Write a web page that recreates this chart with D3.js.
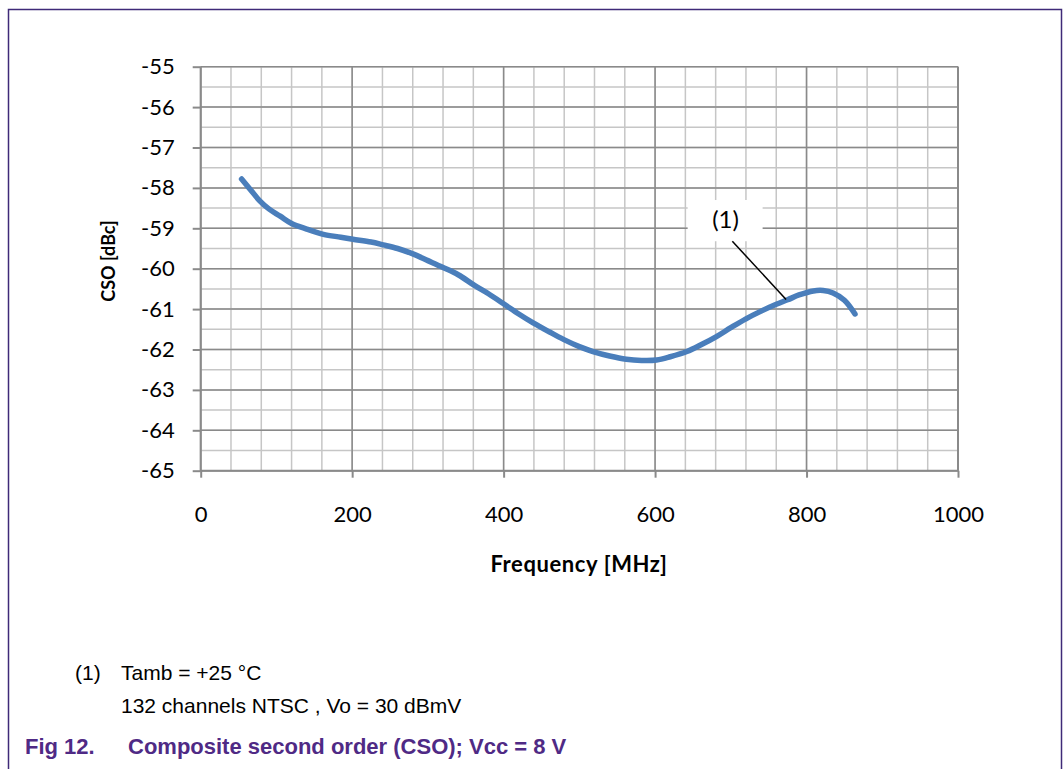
<!DOCTYPE html>
<html>
<head>
<meta charset="utf-8">
<script src="https://cdn.jsdelivr.net/npm/d3@7"></script>
<style>
  body { margin: 0; background: #fff; }
  svg { display: block; }
</style>
</head>
<body>
<svg id="chart" width="1063" height="769"></svg>
<script>
// measured CSO curve, Vcc = 8 V
var freq = [54, 66, 78, 90, 105, 120, 140, 162, 185, 201, 225, 241, 260, 281, 300, 320, 340, 362, 380, 401,
            420, 439, 460, 479, 500, 518, 540, 562, 582, 602, 620, 642, 660, 681, 700, 720, 740, 760, 775, 790,
            809, 822, 835, 850, 864];
var cso = [-57.78, -58.05, -58.32, -58.52, -58.70, -58.88, -59.02, -59.15, -59.22, -59.27, -59.34, -59.41, -59.50, -59.64, -59.80, -59.97, -60.15, -60.42, -60.62, -60.88,
           -61.12, -61.34, -61.56, -61.75, -61.93, -62.05, -62.16, -62.24, -62.27, -62.26, -62.18, -62.05, -61.89, -61.68, -61.46, -61.24, -61.05, -60.88, -60.77, -60.65,
           -60.55, -60.54, -60.60, -60.78, -61.12];

var xTicks = [0, 200, 400, 600, 800, 1000];
var yTicks = [-55, -56, -57, -58, -59, -60, -61, -62, -63, -64, -65];
var xMinor = d3.range(0, 1001, 40);
var yMinor = d3.range(-65, -54.9, 0.5);

var note = ["Tamb = +25 °C", "132 channels NTSC , Vo = 30 dBmV"];

var svg = d3.select('#chart');
var W = 1063, H = 769;

// page frame
svg.append('path')
    .attr('d', 'M8.5,' + H + 'V9.5H1061.5V' + H)
    .attr('fill', 'none')
    .attr('stroke', '#3f2a78')
    .attr('stroke-width', 1.5);

var x = d3.scaleLinear().domain([0, 1000]).range([200.7, 958]);
var y = d3.scaleLinear().domain([-65, -55]).range([470.7, 66.7]);

var grid = svg.append('g');

// minor grid
grid.selectAll('line.vmin').data(xMinor).enter().append('line')
    .attr('x1', function(d){return x(d)}).attr('x2', function(d){return x(d)})
    .attr('y1', y(-55)).attr('y2', y(-65))
    .attr('stroke', '#c6c6c6').attr('stroke-width', 1.5);
grid.selectAll('line.hmin').data(yMinor).enter().append('line')
    .attr('y1', function(d){return y(d)}).attr('y2', function(d){return y(d)})
    .attr('x1', x(0)).attr('x2', x(1000))
    .attr('stroke', '#c6c6c6').attr('stroke-width', 1.5);

// major grid
grid.selectAll('line.vmaj').data(xTicks).enter().append('line')
    .attr('x1', function(d){return x(d)}).attr('x2', function(d){return x(d)})
    .attr('y1', y(-55)).attr('y2', y(-65))
    .attr('stroke', '#8a8a8a').attr('stroke-width', 1.5);
grid.selectAll('line.hmaj').data(yTicks).enter().append('line')
    .attr('y1', function(d){return y(d)}).attr('y2', function(d){return y(d)})
    .attr('x1', x(0)).attr('x2', x(1000))
    .attr('stroke', '#8a8a8a').attr('stroke-width', 1.5);

// annotation box (hides grid behind label)
var ann = {fx: 693, fy: -58.99, text: '(1)', bx0: 643, bx1: 742, by0: -58.3, by1: -59.32,
           lx0: 702, ly0: -59.32, lx1: 773, ly1: -60.76};
svg.append('rect')
    .attr('x', x(ann.bx0)).attr('y', y(ann.by0))
    .attr('width', x(ann.bx1) - x(ann.bx0)).attr('height', y(ann.by1) - y(ann.by0))
    .attr('fill', '#fff');

// axes
var fmt = function(d){ return String(d); };
var xAxis = d3.axisBottom(x).tickValues(xTicks).tickFormat(fmt).tickSize(7).tickPadding(29);
var yAxis = d3.axisLeft(y).tickValues(yTicks).tickFormat(fmt).tickSize(8).tickPadding(18);

var gx = svg.append('g').attr('transform', 'translate(0,' + y(-65) + ')').call(xAxis);
var gy = svg.append('g').attr('transform', 'translate(' + x(0) + ',0)').call(yAxis);
[gx, gy].forEach(function(g){
    g.select('.domain').attr('stroke', '#8a8a8a').attr('stroke-width', 2);
    g.selectAll('.tick line').attr('stroke', '#8a8a8a').attr('stroke-width', 2);
    g.selectAll('.tick text').attr('fill', '#000')
        .style('font-family', 'Lato, "Open Sans", sans-serif').style('font-size', '22px');
});
gy.select('.domain').attr('d', 'M0,' + y(-55) + 'V' + y(-65));
gx.select('.domain').attr('d', 'M' + x(0) + ',0H' + x(1000));

// right border line of plot
svg.append('line')
    .attr('x1', x(1000)).attr('x2', x(1000)).attr('y1', y(-55)).attr('y2', y(-65))
    .attr('stroke', '#8a8a8a').attr('stroke-width', 2);

// data line
var line = d3.line()
    .x(function(d, i){return x(freq[i])})
    .y(function(d){return y(d)})
    .curve(d3.curveCatmullRom);
svg.append('path')
    .datum(cso)
    .attr('d', line)
    .attr('fill', 'none')
    .attr('stroke', '#4a7ebb')
    .attr('stroke-width', 5.5)
    .attr('stroke-linecap', 'round')
    .attr('stroke-linejoin', 'round');

// annotation label + leader
svg.append('text')
    .attr('x', x(ann.fx)).attr('y', y(ann.fy))
    .attr('text-anchor', 'middle')
    .style('font-family', 'Lato, sans-serif').style('font-size', '24px')
    .text(ann.text);
svg.append('line')
    .attr('x1', x(ann.lx0)).attr('y1', y(ann.ly0))
    .attr('x2', x(ann.lx1)).attr('y2', y(ann.ly1))
    .attr('stroke', '#000').attr('stroke-width', 1.5);

// axis titles
svg.append('text')
    .attr('x', 579).attr('y', 572)
    .attr('text-anchor', 'middle')
    .style('font-family', 'Lato, sans-serif').style('font-size', '22px').style('font-weight', 'bold')
    .style('letter-spacing', '0.6px')
    .text('Frequency [MHz]');
svg.append('text')
    .attr('transform', 'translate(115,' + 261 + ') rotate(-90)')
    .attr('text-anchor', 'middle')
    .style('font-family', 'Lato, sans-serif').style('font-size', '18px').style('font-weight', 'bold')
    .text('CSO [dBc]');

// footnote
var foot = svg.append('g')
    .style('font-family', '"Liberation Sans", Arial, sans-serif').style('font-size', '21px').attr('fill', '#000');
foot.append('text').attr('x', 75).attr('y', 680).text('(1)');
foot.selectAll('text.n').data(note).enter().append('text')
    .attr('x', 121).attr('y', function(d, i){return 680 + i * 33})
    .text(function(d){return d});

// figure caption
var cap = svg.append('g')
    .style('font-family', '"Liberation Sans", Arial, sans-serif').style('font-size', '22px')
    .style('font-weight', 'bold').attr('fill', '#4f2a85');
cap.append('text').attr('x', 25).attr('y', 754).text('Fig 12.');
cap.append('text').attr('x', 128).attr('y', 754).text('Composite second order (CSO); Vcc = 8 V');
</script>
</body>
</html>
